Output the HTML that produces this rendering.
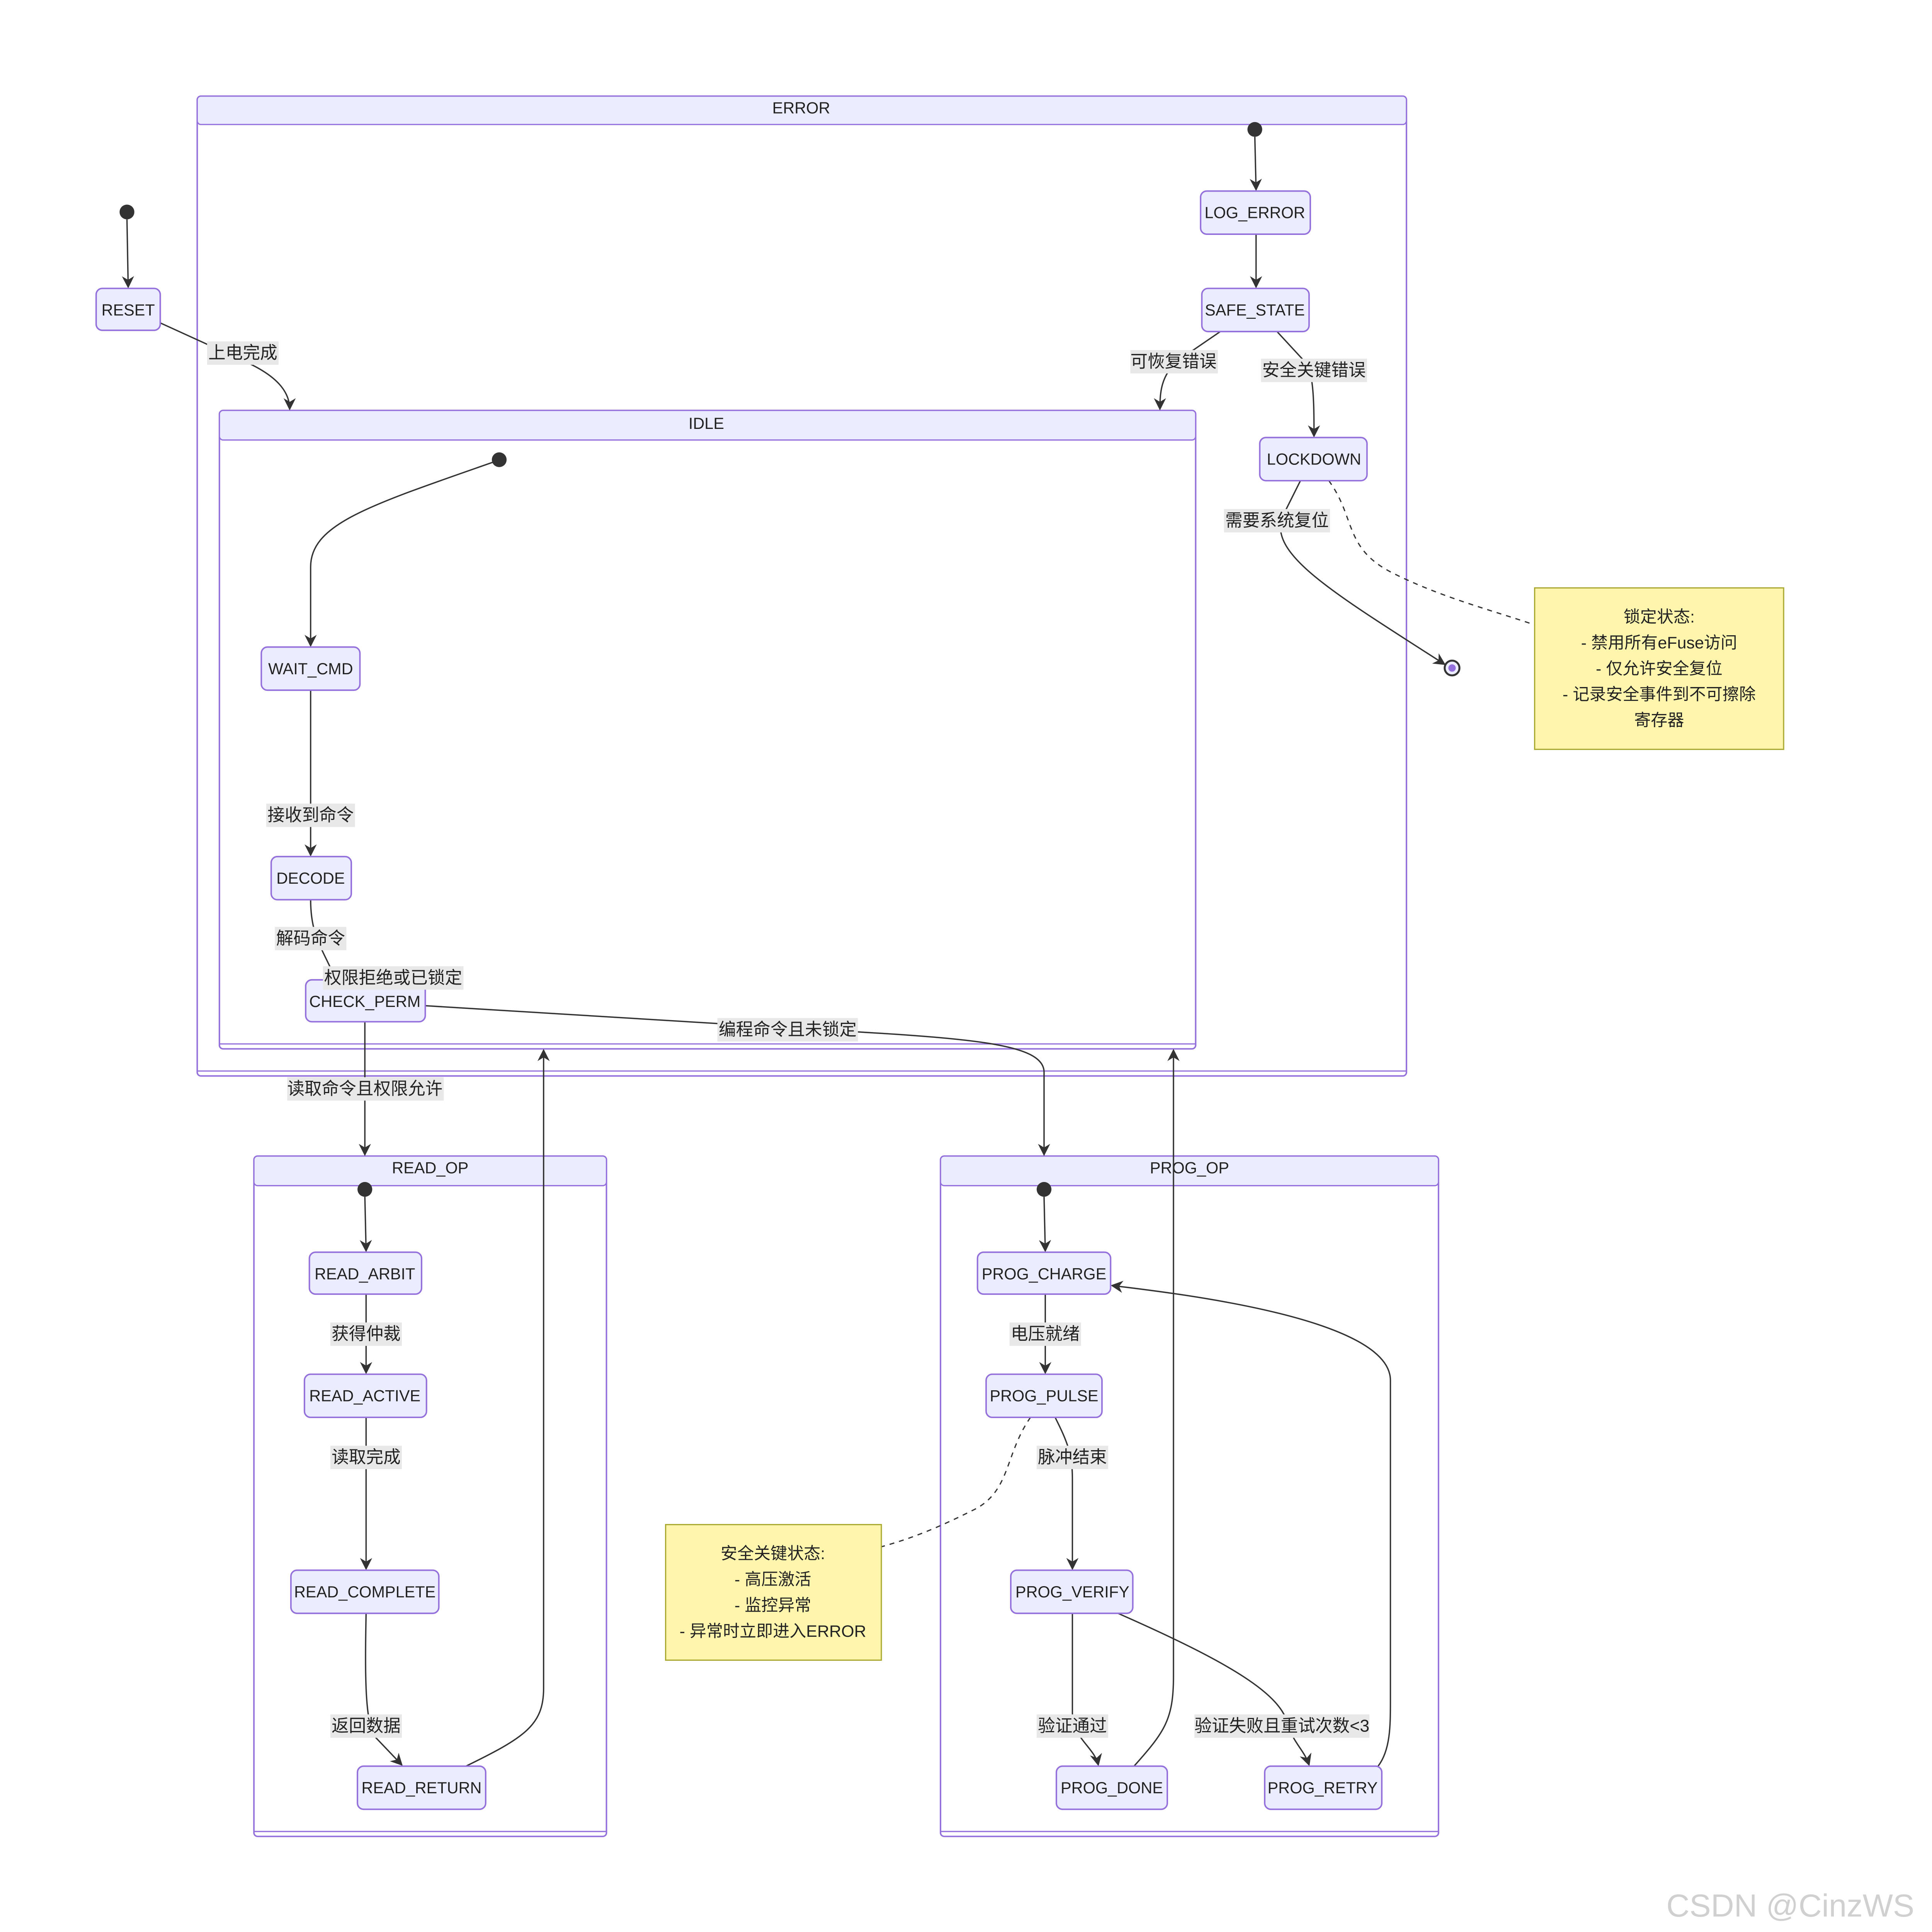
<!DOCTYPE html>
<html><head><meta charset="utf-8"><style>
html,body{margin:0;padding:0;background:#fff;overflow:hidden;}
svg{display:block;}
text{font-family:"Liberation Sans","Noto Sans CJK SC",sans-serif;fill:#222;}
.n{fill:#ececff;stroke:#9370db;stroke-width:1.2;}
.c{fill:#fff;stroke:#9370db;stroke-width:1.2;}
.h{fill:#ececff;stroke:#9370db;stroke-width:1;}
.e{fill:none;stroke:#333;stroke-width:1.1;}
.d{fill:none;stroke:#333;stroke-width:1;stroke-dasharray:4,4;}
.lb{fill:#e8e8e8;}
.nt{fill:#fff5ad;stroke:#aaaa33;stroke-width:1;}
</style></head><body>
<svg width="5337" height="5381" viewBox="0 0 1673 1687" preserveAspectRatio="none" xmlns="http://www.w3.org/2000/svg">
<defs><marker id="a" viewBox="0 0 10 10" refX="9" refY="5" markerWidth="9" markerHeight="9" orient="auto"><path d="M0,0 L10,5 L0,10 L3,5 z" fill="#333"/></marker></defs>
<rect width="1673" height="1687" fill="#fff"/>

<rect class="c" x="160" y="78" width="981" height="795" rx="3"/>
<rect class="h" x="160" y="78" width="981" height="23" rx="3"/>
<line x1="160" y1="869" x2="1141" y2="869" stroke="#9370db"/>
<text x="650" y="92" font-size="13" text-anchor="middle">ERROR</text>

<rect class="c" x="178" y="333" width="792" height="518" rx="3"/>
<rect class="h" x="178" y="333" width="792" height="24" rx="3"/>
<line x1="178" y1="847" x2="970" y2="847" stroke="#9370db"/>
<text x="573" y="348" font-size="13" text-anchor="middle">IDLE</text>

<rect class="c" x="206" y="938" width="286" height="552" rx="3"/>
<rect class="h" x="206" y="938" width="286" height="24" rx="3"/>
<line x1="206" y1="1486" x2="492" y2="1486" stroke="#9370db"/>
<text x="349" y="952" font-size="13" text-anchor="middle">READ_OP</text>

<rect class="c" x="763" y="938" width="404" height="552" rx="3"/>
<rect class="h" x="763" y="938" width="404" height="24" rx="3"/>
<line x1="763" y1="1486" x2="1167" y2="1486" stroke="#9370db"/>
<text x="965" y="952" font-size="13" text-anchor="middle">PROG_OP</text>

<path class="e" d="M103,178 L104,233" marker-end="url(#a)"/>
<path class="e" d="M130,262 L198,293 C225,305 235,318 235,332" marker-end="url(#a)"/>
<path class="e" d="M1018,111 L1019,154" marker-end="url(#a)"/>
<path class="e" d="M1019,190 L1019,233" marker-end="url(#a)"/>
<path class="e" d="M990,269 L955,293 C942,305 941,318 941,332" marker-end="url(#a)"/>
<path class="e" d="M1036,269 L1060,295 C1066,305 1066,330 1066,354" marker-end="url(#a)"/>
<path class="e" d="M1055,390 L1040,420 C1030,450 1080,480 1172,539" marker-end="url(#a)"/>
<path class="d" d="M1078,390 C1100,420 1090,445 1130,465 C1170,485 1210,495 1245,507"/>
<path class="e" d="M400,375 C300,410 252,425 252,460 L252,524" marker-end="url(#a)"/>
<path class="e" d="M252,560 L252,694" marker-end="url(#a)"/>
<path class="e" d="M252,730 C252,760 262,770 272,794"/>
<path class="e" d="M296,829 L296,937" marker-end="url(#a)"/>
<path class="e" d="M345,816 L640,834 C780,842 847,845 847,870 L847,937" marker-end="url(#a)"/>
<path class="e" d="M378,1433 C425,1410 441,1400 441,1370 L441,852" marker-end="url(#a)"/>
<path class="e" d="M920,1433 C945,1405 952,1395 952,1360 L952,852" marker-end="url(#a)"/>

<path class="e" d="M296,971 L297,1015" marker-end="url(#a)"/>
<path class="e" d="M297,1050 L297,1114" marker-end="url(#a)"/>
<path class="e" d="M297,1150 L297,1273" marker-end="url(#a)"/>
<path class="e" d="M297,1309 C296,1360 296,1400 305,1410 L326,1432" marker-end="url(#a)"/>

<path class="e" d="M847,971 L848,1015" marker-end="url(#a)"/>
<path class="e" d="M848,1050 L848,1114" marker-end="url(#a)"/>
<path class="e" d="M856,1150 C866,1170 870,1180 870,1200 L870,1273" marker-end="url(#a)"/>
<path class="e" d="M870,1309 L870,1390 C870,1410 888,1418 891,1432" marker-end="url(#a)"/>
<path class="e" d="M907,1309 C1000,1350 1040,1375 1045,1400 C1050,1415 1058,1420 1062,1432" marker-end="url(#a)"/>
<path class="e" d="M1118,1433 C1128,1420 1128,1400 1128,1380 L1128,1120 C1128,1070 960,1050 902,1043" marker-end="url(#a)"/>
<path class="d" d="M836,1150 C815,1180 820,1210 790,1225 C760,1240 740,1248 715,1255"/>

<circle cx="103" cy="172" r="6" fill="#333"/>
<circle cx="1018" cy="105" r="6" fill="#333"/>
<circle cx="405" cy="373" r="6" fill="#333"/>
<circle cx="296" cy="965" r="6" fill="#333"/>
<circle cx="847" cy="965" r="6" fill="#333"/>
<circle cx="1178" cy="542" r="6" fill="#ececff" stroke="#333" stroke-width="1.6"/>
<circle cx="1178" cy="542" r="3" fill="#9370db"/>

<g font-size="13" text-anchor="middle">
<rect class="n" x="78" y="234" width="52" height="34" rx="5"/><text x="104" y="256">RESET</text>
<rect class="n" x="974" y="155" width="89" height="35" rx="5"/><text x="1018" y="177">LOG_ERROR</text>
<rect class="n" x="975" y="234" width="87" height="35" rx="5"/><text x="1018" y="256">SAFE_STATE</text>
<rect class="n" x="1022" y="355" width="87" height="35" rx="5"/><text x="1066" y="377">LOCKDOWN</text>
<rect class="n" x="212" y="525" width="80" height="35" rx="5"/><text x="252" y="547">WAIT_CMD</text>
<rect class="n" x="220" y="695" width="65" height="35" rx="5"/><text x="252" y="717">DECODE</text>
<rect class="n" x="248" y="795" width="97" height="34" rx="5"/><text x="296" y="817">CHECK_PERM</text>
<rect class="n" x="251" y="1016" width="91" height="34" rx="5"/><text x="296" y="1038">READ_ARBIT</text>
<rect class="n" x="247" y="1115" width="99" height="35" rx="5"/><text x="296" y="1137">READ_ACTIVE</text>
<rect class="n" x="236" y="1274" width="120" height="35" rx="5"/><text x="296" y="1296">READ_COMPLETE</text>
<rect class="n" x="290" y="1433" width="104" height="35" rx="5"/><text x="342" y="1455">READ_RETURN</text>
<rect class="n" x="793" y="1016" width="108" height="34" rx="5"/><text x="847" y="1038">PROG_CHARGE</text>
<rect class="n" x="800" y="1115" width="94" height="35" rx="5"/><text x="847" y="1137">PROG_PULSE</text>
<rect class="n" x="820" y="1274" width="99" height="35" rx="5"/><text x="870" y="1296">PROG_VERIFY</text>
<rect class="n" x="857" y="1433" width="90" height="35" rx="5"/><text x="902" y="1455">PROG_DONE</text>
<rect class="n" x="1026" y="1433" width="95" height="35" rx="5"/><text x="1073" y="1455">PROG_RETRY</text>
</g>

<g font-size="14" text-anchor="middle">
<rect class="lb" x="168" y="277" width="58" height="19"/><text x="197" y="291">上电完成</text>
<rect class="lb" x="917" y="284" width="71" height="19"/><text x="952" y="298">可恢复错误</text>
<rect class="lb" x="1023" y="291" width="86" height="19"/><text x="1066" y="305">安全关键错误</text>
<rect class="lb" x="993" y="413" width="86" height="19"/><text x="1036" y="427">需要系统复位</text>
<rect class="lb" x="216" y="652" width="72" height="19"/><text x="252" y="666">接收到命令</text>
<rect class="lb" x="223" y="752" width="58" height="19"/><text x="252" y="766">解码命令</text>
<rect class="lb" x="262" y="784" width="114" height="19"/><text x="319" y="798">权限拒绝或已锁定</text>
<rect class="lb" x="233" y="874" width="127" height="19"/><text x="296" y="888">读取命令且权限允许</text>
<rect class="lb" x="582" y="826" width="114" height="19"/><text x="639" y="840">编程命令且未锁定</text>
<rect class="lb" x="268" y="1073" width="58" height="19"/><text x="297" y="1087">获得仲裁</text>
<rect class="lb" x="268" y="1173" width="58" height="19"/><text x="297" y="1187">读取完成</text>
<rect class="lb" x="268" y="1391" width="58" height="19"/><text x="297" y="1405">返回数据</text>
<rect class="lb" x="819" y="1073" width="58" height="19"/><text x="848" y="1087">电压就绪</text>
<rect class="lb" x="841" y="1173" width="58" height="19"/><text x="870" y="1187">脉冲结束</text>
<rect class="lb" x="841" y="1391" width="58" height="19"/><text x="870" y="1405">验证通过</text>
<rect class="lb" x="969" y="1391" width="142" height="19"/><text x="1040" y="1405">验证失败且重试次数&lt;3</text>
</g>

<rect class="nt" x="1245" y="477" width="202" height="131"/>
<g font-size="13.5" text-anchor="middle">
<text x="1346" y="505">锁定状态:</text>
<text x="1346" y="526">- 禁用所有eFuse访问</text>
<text x="1346" y="547">- 仅允许安全复位</text>
<text x="1346" y="568">- 记录安全事件到不可擦除</text>
<text x="1346" y="589">寄存器</text>
</g>
<rect class="nt" x="540" y="1237" width="175" height="110"/>
<g font-size="13.5" text-anchor="middle">
<text x="627" y="1265">安全关键状态:</text>
<text x="627" y="1286">- 高压激活</text>
<text x="627" y="1307">- 监控异常</text>
<text x="627" y="1328">- 异常时立即进入ERROR</text>
</g>

<text x="1553" y="1555" font-size="26" text-anchor="end" style="fill:#d0d0d0">CSDN @CinzWS</text>
</svg>
</body></html>
